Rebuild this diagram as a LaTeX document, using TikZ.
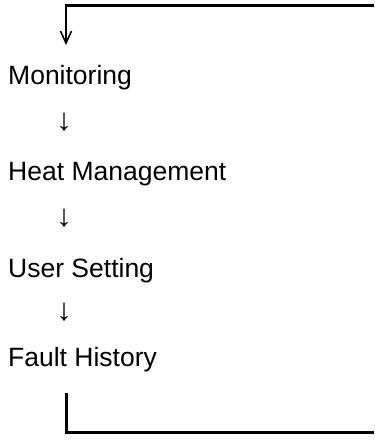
\documentclass[tikz,border=0pt]{standalone}
\usepackage{fontspec}
\setmainfont{Liberation Sans}
\usetikzlibrary{arrows.meta,positioning}
\tikzset{>=stealth}
\colorlet{penColor}{black}
\tikzset{
  menuitem/.style={anchor=base west,inner sep=0pt,font=\fontsize{26.5}{30}\selectfont},
  downsign/.style={anchor=center,inner sep=0pt,font=\fontsize{31}{34}\selectfont},
  loopline/.style={penColor,line width=3pt},
}

\begin{document}
\begin{tikzpicture}[x=1pt,y=-1pt]
		\useasboundingbox (0,0) rectangle (374,443);
		\node[menuitem] (mon) at (8,85) {Monitoring};
		\node[menuitem] (heat) at (8,181) {Heat Management};
		\node[menuitem] (user) at (8,277) {User Setting};
		\node[menuitem] (fault) at (8,366) {Fault History};
		\node[downsign] (d1) at (64,122) {↓};
		\node[downsign] (d2) at (64,218) {↓};
		\node[downsign] (d3) at (64,312) {↓};
		% loop back to the top
		\coordinate (topR) at (374,6);
		\coordinate (topC) at (64.5,6);
		\coordinate (topV) at (66,6);
		\coordinate (topT) at (66,45);
		\draw[loopline] (topR) -- (topC);
		\draw[penColor, line width=1.6pt, -{Straight Barb[length=12pt,width=11pt,line width=1.6pt]}] (topV) -- (topT);
		\coordinate (botT) at (66,393);
		\coordinate (botR) at (374,432);
		\draw[loopline] (botT) |- (botR);% bottom
\end{tikzpicture}
\end{document}
